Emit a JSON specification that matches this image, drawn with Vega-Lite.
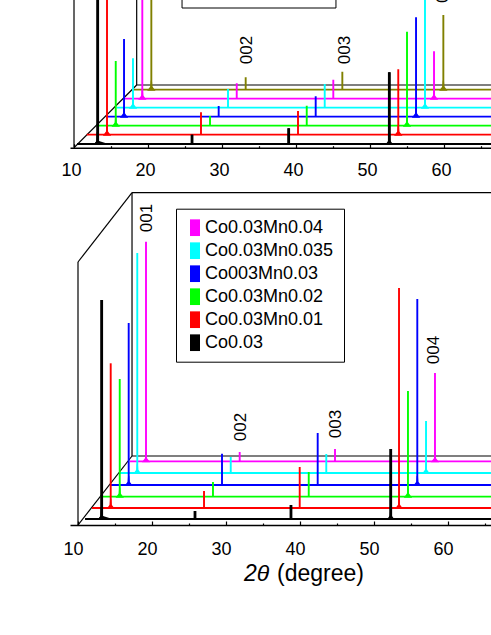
{"$schema":"https://vega.github.io/schema/vega-lite/v6.json","padding":{"left":60,"top":0,"right":0,"bottom":0},"autosize":{"type":"pad"},"background":"white","config":{"font":"Liberation Sans","view":{"stroke":null}},"spacing":7,"resolve":{"scale":{"x":"independent","y":"independent"},"legend":{"fill":"independent"}},
"datasets":{
"topFrame":[{"x":10,"x2":10,"y":0,"y2":170},{"x":18.47,"x2":18.47,"y":62.7,"y2":170},{"x":18.47,"x2":67,"y":62.7,"y2":62.7},{"x":10,"x2":18.47,"y":0,"y2":62.7}],
"topTraces":[{"s":"Olive","x":18.11,"x2":67,"y":58},{"s":"Co0.03Mn0.04","x":16.89,"x2":67,"y":49},{"s":"Co0.03Mn0.035","x":15.77,"x2":67,"y":40},{"s":"Co003Mn0.03","x":14.42,"x2":67,"y":31},{"s":"Co0.03Mn0.02","x":13.07,"x2":67,"y":22},{"s":"Co0.03Mn0.01","x":11.72,"x2":67,"y":13},{"s":"Co0.03","x":10.41,"x2":67,"y":3.7}],
"topPeaks":[
{"s":"Olive","x":20.45,"y":58,"y2":170,"foot":66},{"s":"Olive","x":33.2,"y":58,"y2":70.4},{"s":"Olive","x":46.26,"y":58,"y2":76},{"s":"Olive","x":59.91,"y":58,"y2":132.7,"foot":65},
{"s":"Co0.03Mn0.04","x":19.23,"y":49,"y2":170,"foot":58},{"s":"Co0.03Mn0.04","x":31.99,"y":49,"y2":64.4},{"s":"Co0.03Mn0.04","x":45.04,"y":49,"y2":68},{"s":"Co0.03Mn0.04","x":58.65,"y":49,"y2":96.4,"foot":55},
{"s":"Co0.03Mn0.035","x":17.97,"y":40,"y2":89.4,"foot":45},{"s":"Co0.03Mn0.035","x":30.81,"y":40,"y2":58.7},{"s":"Co0.03Mn0.035","x":43.88,"y":40,"y2":63.7},{"s":"Co0.03Mn0.035","x":57.43,"y":40,"y2":150,"foot":47},
{"s":"Co003Mn0.03","x":16.76,"y":31,"y2":108.7,"foot":35},{"s":"Co003Mn0.03","x":29.55,"y":31,"y2":41.7},{"s":"Co003Mn0.03","x":42.66,"y":31,"y2":51.4},{"s":"Co003Mn0.03","x":56.22,"y":31,"y2":130.4,"foot":36},
{"s":"Co0.03Mn0.02","x":15.64,"y":22,"y2":86.7,"foot":26},{"s":"Co0.03Mn0.02","x":28.38,"y":22,"y2":31.7},{"s":"Co0.03Mn0.02","x":41.45,"y":22,"y2":42},{"s":"Co0.03Mn0.02","x":55,"y":22,"y2":116,"foot":28},
{"s":"Co0.03Mn0.01","x":14.46,"y":13,"y2":170,"foot":18},{"s":"Co0.03Mn0.01","x":27.16,"y":13,"y2":35.4},{"s":"Co0.03Mn0.01","x":40.27,"y":13,"y2":36.7},{"s":"Co0.03Mn0.01","x":53.82,"y":13,"y2":78.4,"foot":18},
{"s":"Co0.03","x":13.2,"y":3.7,"y2":170,"foot":16},{"s":"Co0.03","x":25.95,"y":3.7,"y2":13},{"s":"Co0.03","x":39.01,"y":3.7,"y2":19.4},{"s":"Co0.03","x":52.61,"y":3.7,"y2":75.4,"foot":12}],
"bottomFrame":[{"x":10,"x2":10,"y":0,"y2":263},{"x":10,"x2":17.3,"y":263,"y2":332.3},{"x":17.3,"x2":17.3,"y":69,"y2":332.3},{"x":17.3,"x2":67,"y":332.3,"y2":332.3},{"x":17.3,"x2":67,"y":69,"y2":69},{"x":10,"x2":17.3,"y":0,"y2":69}],
"bottomTraces":[{"s":"Co0.03Mn0.04","x":17.03,"x2":67,"y":63.7},{"s":"Co0.03Mn0.035","x":15.68,"x2":67,"y":52},{"s":"Co003Mn0.03","x":14.32,"x2":67,"y":40},{"s":"Co0.03Mn0.02","x":12.97,"x2":67,"y":28.3},{"s":"Co0.03Mn0.01","x":11.89,"x2":67,"y":17},{"s":"Co0.03","x":10.95,"x2":67,"y":6}],
"bottomPeaks":[
{"s":"Co0.03Mn0.04","x":19.19,"y":63.7,"y2":283.3,"foot":70},{"s":"Co0.03Mn0.04","x":31.85,"y":63.7,"y2":73},{"s":"Co0.03Mn0.04","x":44.73,"y":63.7,"y2":76},{"s":"Co0.03Mn0.04","x":58.24,"y":63.7,"y2":152,"foot":70},
{"s":"Co0.03Mn0.035","x":18.01,"y":52,"y2":272,"foot":59},{"s":"Co0.03Mn0.035","x":30.64,"y":52,"y2":68},{"s":"Co0.03Mn0.035","x":43.55,"y":52,"y2":71},{"s":"Co0.03Mn0.035","x":57.03,"y":52,"y2":104,"foot":58},
{"s":"Co003Mn0.03","x":16.85,"y":40,"y2":202,"foot":47},{"s":"Co003Mn0.03","x":29.46,"y":40,"y2":71.3},{"s":"Co003Mn0.03","x":42.39,"y":40,"y2":92},{"s":"Co003Mn0.03","x":55.85,"y":40,"y2":226,"foot":47},
{"s":"Co0.03Mn0.02","x":15.64,"y":28.3,"y2":146,"foot":34},{"s":"Co0.03Mn0.02","x":28.24,"y":28.3,"y2":43},{"s":"Co0.03Mn0.02","x":41.18,"y":28.3,"y2":53},{"s":"Co0.03Mn0.02","x":54.59,"y":28.3,"y2":134,"foot":35},
{"s":"Co0.03Mn0.01","x":14.42,"y":17,"y2":161.7,"foot":22},{"s":"Co0.03Mn0.01","x":27.03,"y":17,"y2":34},{"s":"Co0.03Mn0.01","x":39.96,"y":17,"y2":58},{"s":"Co0.03Mn0.01","x":53.38,"y":17,"y2":237,"foot":24},
{"s":"Co0.03","x":13.2,"y":6,"y2":225,"foot":18},{"s":"Co0.03","x":25.81,"y":6,"y2":14},{"s":"Co0.03","x":38.78,"y":6,"y2":20},{"s":"Co0.03","x":52.26,"y":6,"y2":76,"foot":15}]
},
"vconcat":[
{"width":421,"height":147.7,
"encoding":{"x":{"field":"x","type":"quantitative","scale":{"domain":[9.459,66.35],"nice":false,"zero":false},
"axis":{"title":null,"values":[10,15,20,25,30,35,40,45,50,55,60,65],"grid":false,"domainColor":"black","domainWidth":1.5,"tickColor":"black","tickWidth":1.2,"tickSize":{"condition":{"test":"datum.value%10==0","value":-4},"value":-2},"labelExpr":"datum.value%10==0?datum.label:''","labelFontSize":18,"labelColor":"black","labelOffset":-3,"labelPadding":18,"labelFont":"Liberation Sans"}},
"y":{"field":"y","type":"quantitative","scale":{"domain":[0,147.7],"nice":false,"zero":false},"axis":null}},
"layer":[
{"data":{"name":"topFrame"},"mark":{"type":"rule","clip":true,"color":"black","strokeWidth":1.2},"encoding":{"x2":{"field":"x2"},"y2":{"field":"y2"}}},
{"data":{"values":[{"x":24.6,"x2":45.4,"y":170,"y2":139.7}]},"mark":{"type":"rect","clip":true,"fill":null,"stroke":"black","strokeWidth":1},"encoding":{"x2":{"field":"x2"},"y2":{"field":"y2"}}},
{"data":{"name":"topTraces"},"mark":{"type":"rule","clip":true,"strokeWidth":1.8},"encoding":{"x2":{"field":"x2"},"stroke":{"field":"s","scale":{"domain":["Olive","Co0.03Mn0.04","Co0.03Mn0.035","Co003Mn0.03","Co0.03Mn0.02","Co0.03Mn0.01","Co0.03"],"range":["#808000","#ff00ff","#00ffff","#0000ff","#00ff00","#ff0000","#000000"]},"legend":null}}},
{"data":{"name":"topPeaks"},"transform":[{"filter":"datum.foot"}],"mark":{"type":"point","clip":true,"filled":true,"opacity":1,"size":110,"shape":"M-0.8,0.2L-0.2,-0.6L-0.12,-1.75L0.12,-1.75L0.2,-0.6L0.8,0.2Z"},"encoding":{"color":{"field":"s","scale":{"domain":["Olive","Co0.03Mn0.04","Co0.03Mn0.035","Co003Mn0.03","Co0.03Mn0.02","Co0.03Mn0.01","Co0.03"],"range":["#808000","#ff00ff","#00ffff","#0000ff","#00ff00","#ff0000","#000000"]},"legend":null}}},
{"data":{"name":"topPeaks"},"mark":{"type":"rule","clip":true,"strokeWidth":1.9},"encoding":{"y2":{"field":"y2"},"stroke":{"field":"s","legend":null}}},
{"data":{"name":"topPeaks"},"transform":[{"filter":"datum.s=='Co0.03'"}],"mark":{"type":"rule","clip":true,"strokeWidth":2.8,"color":"black"},"encoding":{"y2":{"field":"y2"}}},
{"data":{"name":"topPeaks"},"transform":[{"filter":"datum.s=='Co0.03'&&datum.x<15"}],"mark":{"type":"point","clip":true,"filled":true,"opacity":1,"size":100,"color":"black","shape":"M-0.8,0.2L-0.25,-0.6L-0.2,-2.4L0.2,-2.4L0.25,-0.6L2.8,0.2Z"}},
{"data":{"values":[{"x":33.4,"y":97.7,"t":"002"},{"x":46.6,"y":97.7,"t":"003"},{"x":59.86,"y":159,"t":"004"}]},"mark":{"type":"text","clip":true,"angle":270,"fontSize":17,"color":"black"},"encoding":{"text":{"field":"t"}}}
]},
{"width":421,"height":338,
"encoding":{"x":{"field":"x","type":"quantitative","scale":{"domain":[8.919,65.81],"nice":false,"zero":false},
"axis":{"title":null,"values":[10,15,20,25,30,35,40,45,50,55,60,65],"grid":false,"domainColor":"black","domainWidth":1.5,"tickColor":"black","tickWidth":1.2,"tickSize":{"condition":{"test":"datum.value%10==0","value":-4},"value":-2},"labelExpr":"datum.value%10==0?datum.label:''","labelFontSize":18,"labelColor":"black","labelOffset":-5,"labelPadding":19,"labelFont":"Liberation Sans"}},
"y":{"field":"y","type":"quantitative","scale":{"domain":[0,338],"nice":false,"zero":false},"axis":null}},
"layer":[
{"data":{"name":"bottomFrame"},"mark":{"type":"rule","clip":true,"color":"black","strokeWidth":1.2},"encoding":{"x2":{"field":"x2"},"y2":{"field":"y2"}}},
{"data":{"name":"bottomTraces"},"mark":{"type":"rule","clip":true,"strokeWidth":1.8},"encoding":{"x2":{"field":"x2"},"stroke":{"field":"s","legend":null}}},
{"data":{"name":"bottomPeaks"},"transform":[{"filter":"datum.foot"}],"mark":{"type":"point","clip":true,"filled":true,"opacity":1,"size":110,"shape":"M-0.8,0.2L-0.2,-0.6L-0.12,-1.75L0.12,-1.75L0.2,-0.6L0.8,0.2Z"},"encoding":{"fill":{"field":"s","scale":{"domain":["Co0.03Mn0.04","Co0.03Mn0.035","Co003Mn0.03","Co0.03Mn0.02","Co0.03Mn0.01","Co0.03"],"range":["#ff00ff","#00ffff","#0000ff","#00ff00","#ff0000","#000000"]},"legend":{"title":null,"orient":"none","legendX":106,"legendY":21.7,"strokeColor":"black","padding":10,"symbolType":"M-0.6,-1H0.6V1H-0.6Z","symbolSize":278,"symbolStrokeWidth":0,"labelFontSize":18,"labelColor":"black","labelFont":"Liberation Sans","labelLimit":300,"rowPadding":5,"labelOffset":1}}}},
{"data":{"name":"bottomPeaks"},"mark":{"type":"rule","clip":true,"strokeWidth":1.9},"encoding":{"y2":{"field":"y2"},"stroke":{"field":"s","legend":null}}},
{"data":{"name":"bottomPeaks"},"transform":[{"filter":"datum.s=='Co0.03'"}],"mark":{"type":"rule","clip":true,"strokeWidth":2.8,"color":"black"},"encoding":{"y2":{"field":"y2"}}},
{"data":{"name":"bottomPeaks"},"transform":[{"filter":"datum.s=='Co0.03'&&datum.x<15"}],"mark":{"type":"point","clip":true,"filled":true,"opacity":1,"size":100,"color":"black","shape":"M-0.8,0.2L-0.25,-0.6L-0.2,-2.4L0.2,-2.4L0.25,-0.6L2.8,0.2Z"}},
{"data":{"values":[{"x":19.3,"y":307,"t":"001"},{"x":31.97,"y":98,"t":"002"},{"x":44.8,"y":101,"t":"003"},{"x":58.1,"y":175,"t":"004"}]},"mark":{"type":"text","angle":270,"fontSize":17,"color":"black"},"encoding":{"text":{"field":"t"}}},
{"data":{"values":[{"x":32.43,"y":-49,"t":"2θ"}]},"mark":{"type":"text","align":"left","fontSize":23,"fontStyle":"italic","color":"black"},"encoding":{"text":{"field":"t"}}},
{"data":{"values":[{"x":36.89,"y":-49,"t":"(degree)"}]},"mark":{"type":"text","align":"left","fontSize":23,"color":"black"},"encoding":{"text":{"field":"t"}}}
]}
]}
